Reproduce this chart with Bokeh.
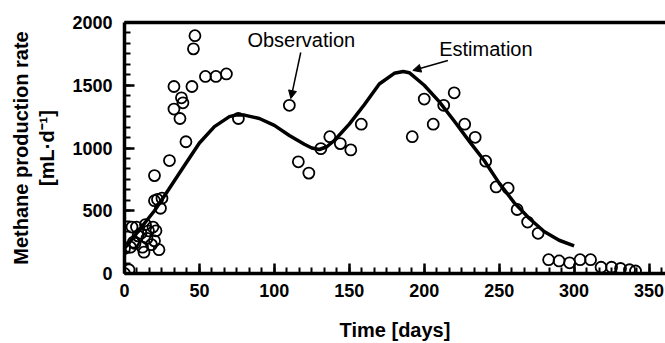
from bokeh.plotting import figure
from bokeh.models import (Range1d, SingleIntervalTicker, FixedTicker, LinearAxis, Label,
                          Arrow, NormalHead)
from bokeh.embed import file_html
from bokeh.resources import INLINE

# Observations (days, mL/d)
obs_day = [0, 3, 0, 4, 5, 6, 7, 8, 9, 11, 12, 13, 14, 15, 16, 18, 19, 20, 21, 23,
           20, 22, 24, 25, 20, 30,
           33, 33, 37, 38, 39, 41, 45, 46, 47, 54, 61, 68, 76,
           110, 116, 123, 131, 137, 144, 151, 158,
           192, 200, 206, 213, 220, 227, 234, 241, 248, 256, 262, 269, 276,
           283, 290, 297, 304, 311, 318, 325, 331, 337, 341]
obs_rate = [0, 30, 200, 210, 370, 250, 240, 370, 300, 320, 210, 170, 390, 280, 340, 230, 370, 260, 340, 190,
            580, 590, 520, 600, 780, 900,
            1310, 1490, 1235, 1400, 1360, 1050, 1490, 1790, 1895, 1570, 1570, 1590, 1235,
            1340, 890, 800, 995, 1090, 1035, 985, 1190,
            1090, 1390, 1190, 1340, 1440, 1190, 1085, 895, 690, 680, 510, 410, 320,
            110, 100, 85, 110, 110, 50, 50, 40, 30, 20]

# Estimation curve
est_day = [0, 10, 20, 25, 30, 40, 50, 60, 70, 75, 80, 90, 100, 110, 120, 125, 130, 135, 140,
           150, 160, 170, 180, 186, 190, 200, 210, 220, 230, 240, 250, 260, 270, 280, 290, 300]
est_rate = [200, 350, 500, 590, 680, 860, 1040, 1170, 1250, 1265, 1262, 1235, 1180, 1100,
            1030, 1000, 988, 1010, 1060, 1190, 1345, 1510, 1595, 1610, 1600, 1500, 1370, 1215,
            1055, 900, 720, 565, 440, 335, 265, 220]

# Annotations
ann_text = ["Observation", "Estimation"]
ann_x = [82, 210]
ann_y = [1857, 1789]
arrow_start_x = [117.6, 215.8]
arrow_start_y = [1761, 1697]
arrow_end_x = [111, 192.4]
arrow_end_y = [1394, 1618]

x_ticks_interval = 50
y_ticks_interval = 500

p = figure(width=665, height=343, output_backend="svg", toolbar_location=None,
           x_range=Range1d(0, 361), y_range=Range1d(0, 2000),
           min_border_left=124, min_border_right=0, min_border_top=22, min_border_bottom=70)
p.outline_line_color = None
p.grid.visible = False
p.background_fill_color = "white"
p.border_fill_color = "white"

FONT = "Liberation Sans"

p.xaxis.ticker = SingleIntervalTicker(interval=x_ticks_interval, num_minor_ticks=6)
p.yaxis.ticker = SingleIntervalTicker(interval=y_ticks_interval, num_minor_ticks=6)

for ax in (p.xaxis[0], p.yaxis[0]):
    ax.axis_line_width = 3.5
    ax.axis_line_color = "black"
    ax.major_tick_in = 10
    ax.major_tick_out = 0
    ax.minor_tick_in = 6
    ax.minor_tick_out = 0
    ax.major_tick_line_width = 2.5
    ax.minor_tick_line_width = 2
    ax.major_label_text_font = FONT
    ax.major_label_text_font_style = "bold"
    ax.major_label_text_font_size = "18px"
    ax.major_label_text_color = "black"
    ax.axis_label_text_font = FONT
    ax.axis_label_text_font_style = "bold"
    ax.axis_label_text_font_size = "20px"
    ax.axis_label_text_color = "black"

p.xaxis.axis_label = "Time [days]"
p.xaxis.major_label_standoff = 10
p.xaxis.axis_label_standoff = 19
p.yaxis.axis_label = "[mL·d⁻¹]"
p.yaxis.major_label_standoff = 12
p.yaxis.axis_label_standoff = 11

# outer y label line
extra = LinearAxis(axis_label="Methane production rate", ticker=FixedTicker(ticks=[]),
                   axis_line_color=None, major_tick_line_color=None,
                   minor_tick_line_color=None,
                   axis_label_text_font=FONT, axis_label_text_font_style="bold",
                   axis_label_text_font_size="20px", axis_label_text_color="black",
                   axis_label_standoff=2, major_label_standoff=0)
p.add_layout(extra, "left")

# top border line
top = LinearAxis(ticker=FixedTicker(ticks=[]), axis_line_width=3.5, axis_line_color="black",
                 major_tick_line_color=None, minor_tick_line_color=None,
                 major_label_standoff=0)
p.add_layout(top, "above")

p.scatter(obs_day, obs_rate, marker="circle", size=11, fill_color=None,
          line_color="black", line_width=1.8)
p.line(est_day, est_rate, line_color="black", line_width=3.5, line_join="round")

for t, x, y in zip(ann_text, ann_x, ann_y):
    p.add_layout(Label(x=x, y=y, text=t, text_font=FONT, text_font_size="20px",
                       text_baseline="middle", text_align="left", text_color="black"))

for sx, sy, ex, ey in zip(arrow_start_x, arrow_start_y, arrow_end_x, arrow_end_y):
    p.add_layout(Arrow(x_start=sx, y_start=sy, x_end=ex, y_end=ey,
                       line_width=1.5, line_color="black",
                       end=NormalHead(size=8, fill_color="black", line_color="black")))

open("out.html", "w").write(file_html(p, INLINE))
